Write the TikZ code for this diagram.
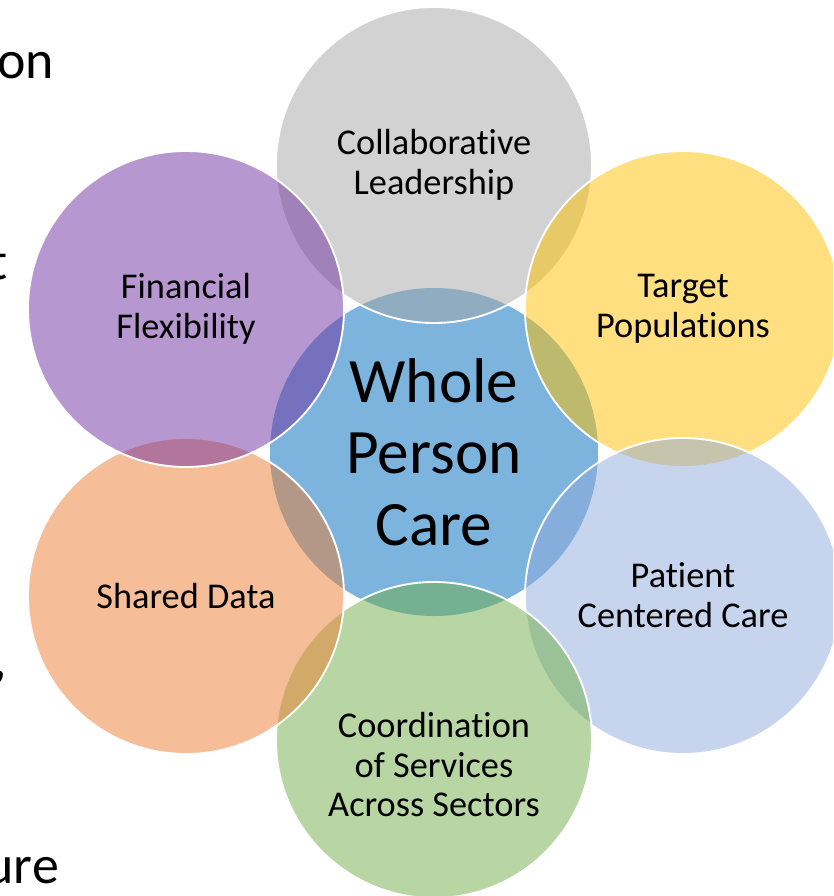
\documentclass[tikz,border=0pt]{standalone}
\usepackage{fontspec}
\setmainfont{Carlito}[Ligatures=NoCommon]
\definecolor{hubblue}{RGB}{124,180,222}
\definecolor{leadgray}{RGB}{165,165,165}
\definecolor{targetgold}{RGB}{255,192,0}
\definecolor{patientblue}{RGB}{143,170,220}
\definecolor{coordgreen}{RGB}{112,173,71}
\definecolor{dataorange}{RGB}{237,125,49}
\definecolor{financepurple}{RGB}{112,48,160}
\tikzset{
  petal/.style={circle, minimum size=9.48cm, inner sep=0pt, draw=white, line width=1.6pt, fill=#1, fill opacity=0.5},
  petaltext/.style={align=center, font=\fontsize{31}{34}\selectfont},
  sidetext/.style={anchor=base east, font=\fontsize{46}{50}\selectfont}
}
\begin{document}
\begin{tikzpicture}[x=0.03cm,y=-0.03cm]
\useasboundingbox (0,0) rectangle (833,896);
\clip (0,0) rectangle (833,896);
% centre first, petals clockwise from the top
\node[circle, minimum size=9.84cm, inner sep=0pt, fill=hubblue] (hub) at (434,452) {};
\node[petal=leadgray] (lead) at (434,165) {};
\node[petal=targetgold] (target) at (683,309) {};
\node[petal=patientblue] (patient) at (683,596) {};
\node[petal=coordgreen] (coord) at (434,740) {};
\node[petal=dataorange] (data) at (186,596) {};
\node[petal=financepurple] (finance) at (186,309) {};
% labels
\node[align=center, font=\fontsize{54}{61}\selectfont] (hubtext) at (hub) {Whole\\Person\\Care};
\node[petaltext] (leadtext) at (lead) {Collaborative\\Leadership};
\node[petaltext] (targettext) at (target) {Target\\Populations};
\node[petaltext] (patienttext) at ([yshift=1pt]patient.center) {Patient\\Centered Care};
\node[petaltext] (coordtext) at ([yshift=-21pt]coord.center) {Coordination\\of Services\\Across Sectors};
\node[petaltext] (datatext) at (data) {Shared Data};
\node[petaltext] (financetext) at (finance) {Financial\\Flexibility};
% cut-off slide text on the left
\node[sidetext] (side1) at (58,78) {on};
\node[sidetext] (side2) at (12,279) {t};
\node[sidetext] (side3) at (11,677) {,};
\node[sidetext] (side4) at (63,883) {ure};
\end{tikzpicture}
\end{document}
